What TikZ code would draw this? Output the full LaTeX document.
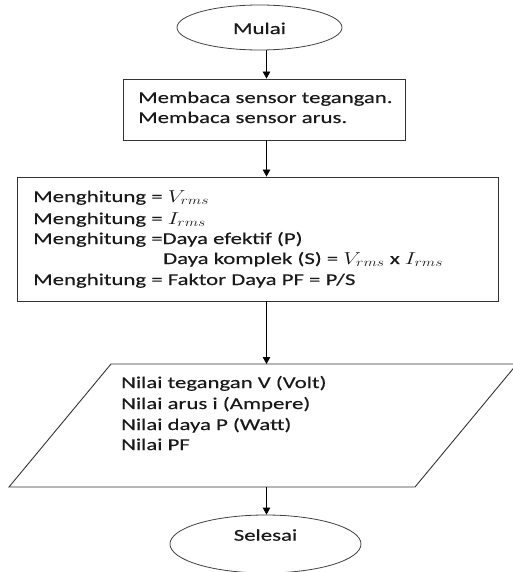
\documentclass[tikz,border=0pt]{standalone}
\usepackage{fontspec}
\setmainfont{Carlito}[FakeStretch=1.38,FakeBold=0.3]
\usepackage{graphicx}
\usetikzlibrary{shapes.geometric,arrows.meta}
\newcommand\mth[1]{\scalebox{1.3}[1]{$#1$}}
\begin{document}
\begin{tikzpicture}[x=1pt,y=-1pt,font=\fontsize{16.5}{20}\selectfont]
\tikzset{
  shapeline/.style={draw=black!80, line width=0.9pt},
  ovalline/.style={draw=black!75, line width=0.8pt},
  arr/.style={draw=black, line width=0.8pt, -{Triangle[length=7pt,width=7.5pt]}},
  txt/.style={anchor=base west, inner sep=0pt, text=black!90},
}
\useasboundingbox (0,0) rectangle (513,572);
\coordinate (ax) at (266.5,0);
% start
\node[ellipse, ovalline, minimum width=165pt, minimum height=45pt, inner sep=0pt] (start) at (259.5,27.5) {};
\node[txt, anchor=base] (startT) at (259.5,34) {Mulai};
% box 1
\node[rectangle, shapeline, minimum width=282pt, minimum height=61pt] (box1) at (264,109.5) {};
\node[txt] (b1a) at (138,103) {Membaca sensor tegangan.};
\node[txt] (b1b) at (138,123) {Membaca sensor arus.};
% box 2
\node[rectangle, shapeline, minimum width=481pt, minimum height=124pt] (box2) at (257.5,239) {};
\node[txt] (b2a) at (33,202) {Menghitung = \mth{V_{rms}}};
\node[txt] (b2b) at (33,224) {Menghitung = \mth{I_{rms}}};
\node[txt] (b2c) at (33,244) {Menghitung =Daya efektif (P)};
\node[txt] (b2d) at (163,264) {Daya komplek (S) = \mth{V_{rms}} x \mth{I_{rms}}};
\node[txt] (b2e) at (33,285) {Menghitung = Faktor Daya PF = P/S};
% parallelogram
\coordinate (p1) at (111,364);
\coordinate (p2) at (517,364);
\coordinate (p3) at (415,487);
\coordinate (p4) at (9,487);
\coordinate (ptop) at (266.5,364);
\coordinate (pbot) at (266.5,487);
\draw[shapeline] (p1) -- (p2) -- (p3) -- (p4) -- cycle;
\node[txt] (o1) at (121,388) {Nilai tegangan V (Volt)};
\node[txt] (o2) at (121,409) {Nilai arus i (Ampere)};
\node[txt] (o3) at (121,430) {Nilai daya P (Watt)};
\node[txt] (o4) at (121,450) {Nilai PF};
% end
\node[ellipse, ovalline, minimum width=191pt, minimum height=58pt, inner sep=0pt] (stop) at (265.5,544) {};
\node[txt, anchor=base] (stopT) at (265.5,540.7) {Selesai};
% arrows
\draw[arr] (start.south -| ax) -- (box1.north -| ax);
\draw[arr] (box1.south -| ax) -- (box2.north -| ax);
\draw[arr] (box2.south -| ax) -- (ptop);
\draw[arr] (pbot) -- (stop.north -| ax);
\end{tikzpicture}
\end{document}
